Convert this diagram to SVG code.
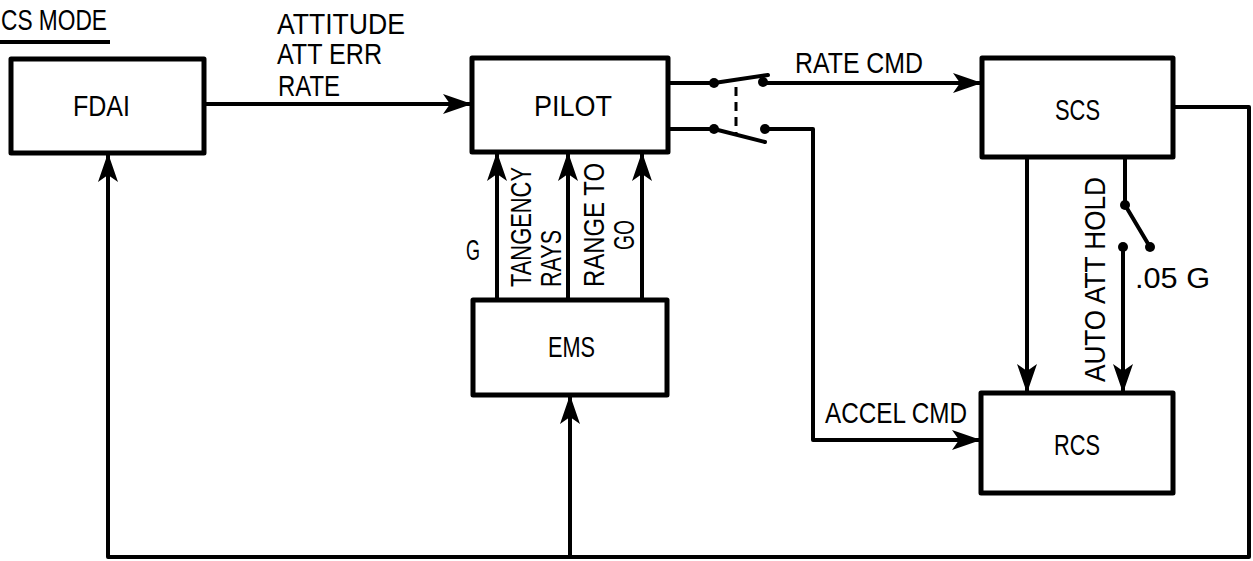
<svg xmlns="http://www.w3.org/2000/svg" width="1253" height="561" viewBox="0 0 1253 561">
<style>
.box{fill:#fff;stroke:#000;stroke-width:5;stroke-linejoin:round}
.ln{fill:none;stroke:#000;stroke-width:4;stroke-linejoin:round;stroke-linecap:round}
.t{font-family:"Liberation Sans",Arial,sans-serif;font-size:29px;fill:#000}
.dot{fill:#000}
</style>
<defs>
<marker id="ah" markerUnits="userSpaceOnUse" viewBox="-30 -11 31 22" markerWidth="31" markerHeight="22" refX="0" refY="0" orient="auto">
<path d="M0,0 L-29,-10 L-22,0 L-29,10 Z" fill="#000"/>
</marker>
</defs>
<rect width="1253" height="561" fill="#fff"/>
<g id="title">
<text class="t" x="1" y="30" textLength="106" lengthAdjust="spacingAndGlyphs">CS MODE</text>
<line x1="0" y1="42" x2="110" y2="42" stroke="#000" stroke-width="4"/>
</g>
<g id="fdai">
<rect class="box" x="11" y="59" width="193" height="94"/>
<text class="t" x="73" y="116" textLength="57" lengthAdjust="spacingAndGlyphs">FDAI</text>
</g>
<g id="pilot">
<rect class="box" x="472" y="58" width="196" height="94"/>
<text class="t" x="534" y="116" textLength="78" lengthAdjust="spacingAndGlyphs">PILOT</text>
</g>
<g id="scs">
<rect class="box" x="982" y="58" width="191" height="99"/>
<text class="t" x="1055" y="120" textLength="45" lengthAdjust="spacingAndGlyphs">SCS</text>
</g>
<g id="ems">
<rect class="box" x="473" y="300" width="194" height="95"/>
<text class="t" x="548" y="357" textLength="47" lengthAdjust="spacingAndGlyphs">EMS</text>
</g>
<g id="rcs">
<rect class="box" x="981" y="393" width="192" height="100"/>
<text class="t" x="1054" y="455" textLength="46" lengthAdjust="spacingAndGlyphs">RCS</text>
</g>
<g id="connectors">
<line class="ln" x1="204" y1="104" x2="472" y2="104" marker-end="url(#ah)"/>
<line class="ln" x1="668" y1="83" x2="714" y2="83"/>
<line class="ln" x1="714" y1="83" x2="768" y2="75"/>
<line class="ln" x1="763" y1="83" x2="982" y2="83" marker-end="url(#ah)"/>
<circle class="dot" cx="714" cy="83" r="5"/>
<circle class="dot" cx="763" cy="82" r="5"/>
<line class="ln" x1="668" y1="129" x2="714" y2="129"/>
<line class="ln" x1="714" y1="129" x2="765" y2="142"/>
<circle class="dot" cx="714" cy="129" r="5"/>
<circle class="dot" cx="765" cy="129" r="5"/>
<polyline class="ln" points="765,129 813,129 813,440 981,440" marker-end="url(#ah)"/>
<line x1="736" y1="87" x2="736" y2="133" stroke="#000" stroke-width="3" stroke-dasharray="9,6"/>
<line class="ln" x1="497" y1="300" x2="497" y2="152" marker-end="url(#ah)"/>
<line class="ln" x1="568" y1="300" x2="568" y2="152" marker-end="url(#ah)"/>
<line class="ln" x1="642" y1="300" x2="642" y2="152" marker-end="url(#ah)"/>
<line class="ln" x1="1027" y1="157" x2="1027" y2="393" marker-end="url(#ah)"/>
<line class="ln" x1="1125" y1="157" x2="1125" y2="205"/>
<line class="ln" x1="1125" y1="205" x2="1150" y2="247"/>
<circle class="dot" cx="1125" cy="205" r="5"/>
<circle class="dot" cx="1150" cy="247" r="5"/>
<circle class="dot" cx="1123" cy="247" r="5"/>
<line class="ln" x1="1123" y1="247" x2="1123" y2="393" marker-end="url(#ah)"/>
<polyline class="ln" points="1173,107 1249,107 1249,557 108,557 108,153" marker-end="url(#ah)"/>
<line class="ln" x1="570" y1="557" x2="570" y2="395" marker-end="url(#ah)"/>
</g>
<g id="labels">
<text class="t" x="277" y="34" textLength="128" lengthAdjust="spacingAndGlyphs">ATTITUDE</text>
<text class="t" x="277" y="64" textLength="105" lengthAdjust="spacingAndGlyphs">ATT ERR</text>
<text class="t" x="278" y="96" textLength="62" lengthAdjust="spacingAndGlyphs">RATE</text>
<text class="t" x="795" y="73" textLength="128" lengthAdjust="spacingAndGlyphs">RATE CMD</text>
<text class="t" x="466" y="260" textLength="14" lengthAdjust="spacingAndGlyphs">G</text>
<text class="t" transform="translate(531,287) rotate(-90)" textLength="120" lengthAdjust="spacingAndGlyphs">TANGENCY</text>
<text class="t" transform="translate(561,287) rotate(-90)" textLength="57" lengthAdjust="spacingAndGlyphs">RAYS</text>
<text class="t" transform="translate(604,287) rotate(-90)" textLength="124" lengthAdjust="spacingAndGlyphs">RANGE TO</text>
<text class="t" transform="translate(634,250) rotate(-90)" textLength="30" lengthAdjust="spacingAndGlyphs">GO</text>
<text class="t" transform="translate(1105,382) rotate(-90)" textLength="205" lengthAdjust="spacingAndGlyphs">AUTO ATT HOLD</text>
<text class="t" x="1135" y="288" textLength="75" lengthAdjust="spacingAndGlyphs">.05 G</text>
<text class="t" x="825" y="423" textLength="142" lengthAdjust="spacingAndGlyphs">ACCEL CMD</text>
</g>
</svg>
